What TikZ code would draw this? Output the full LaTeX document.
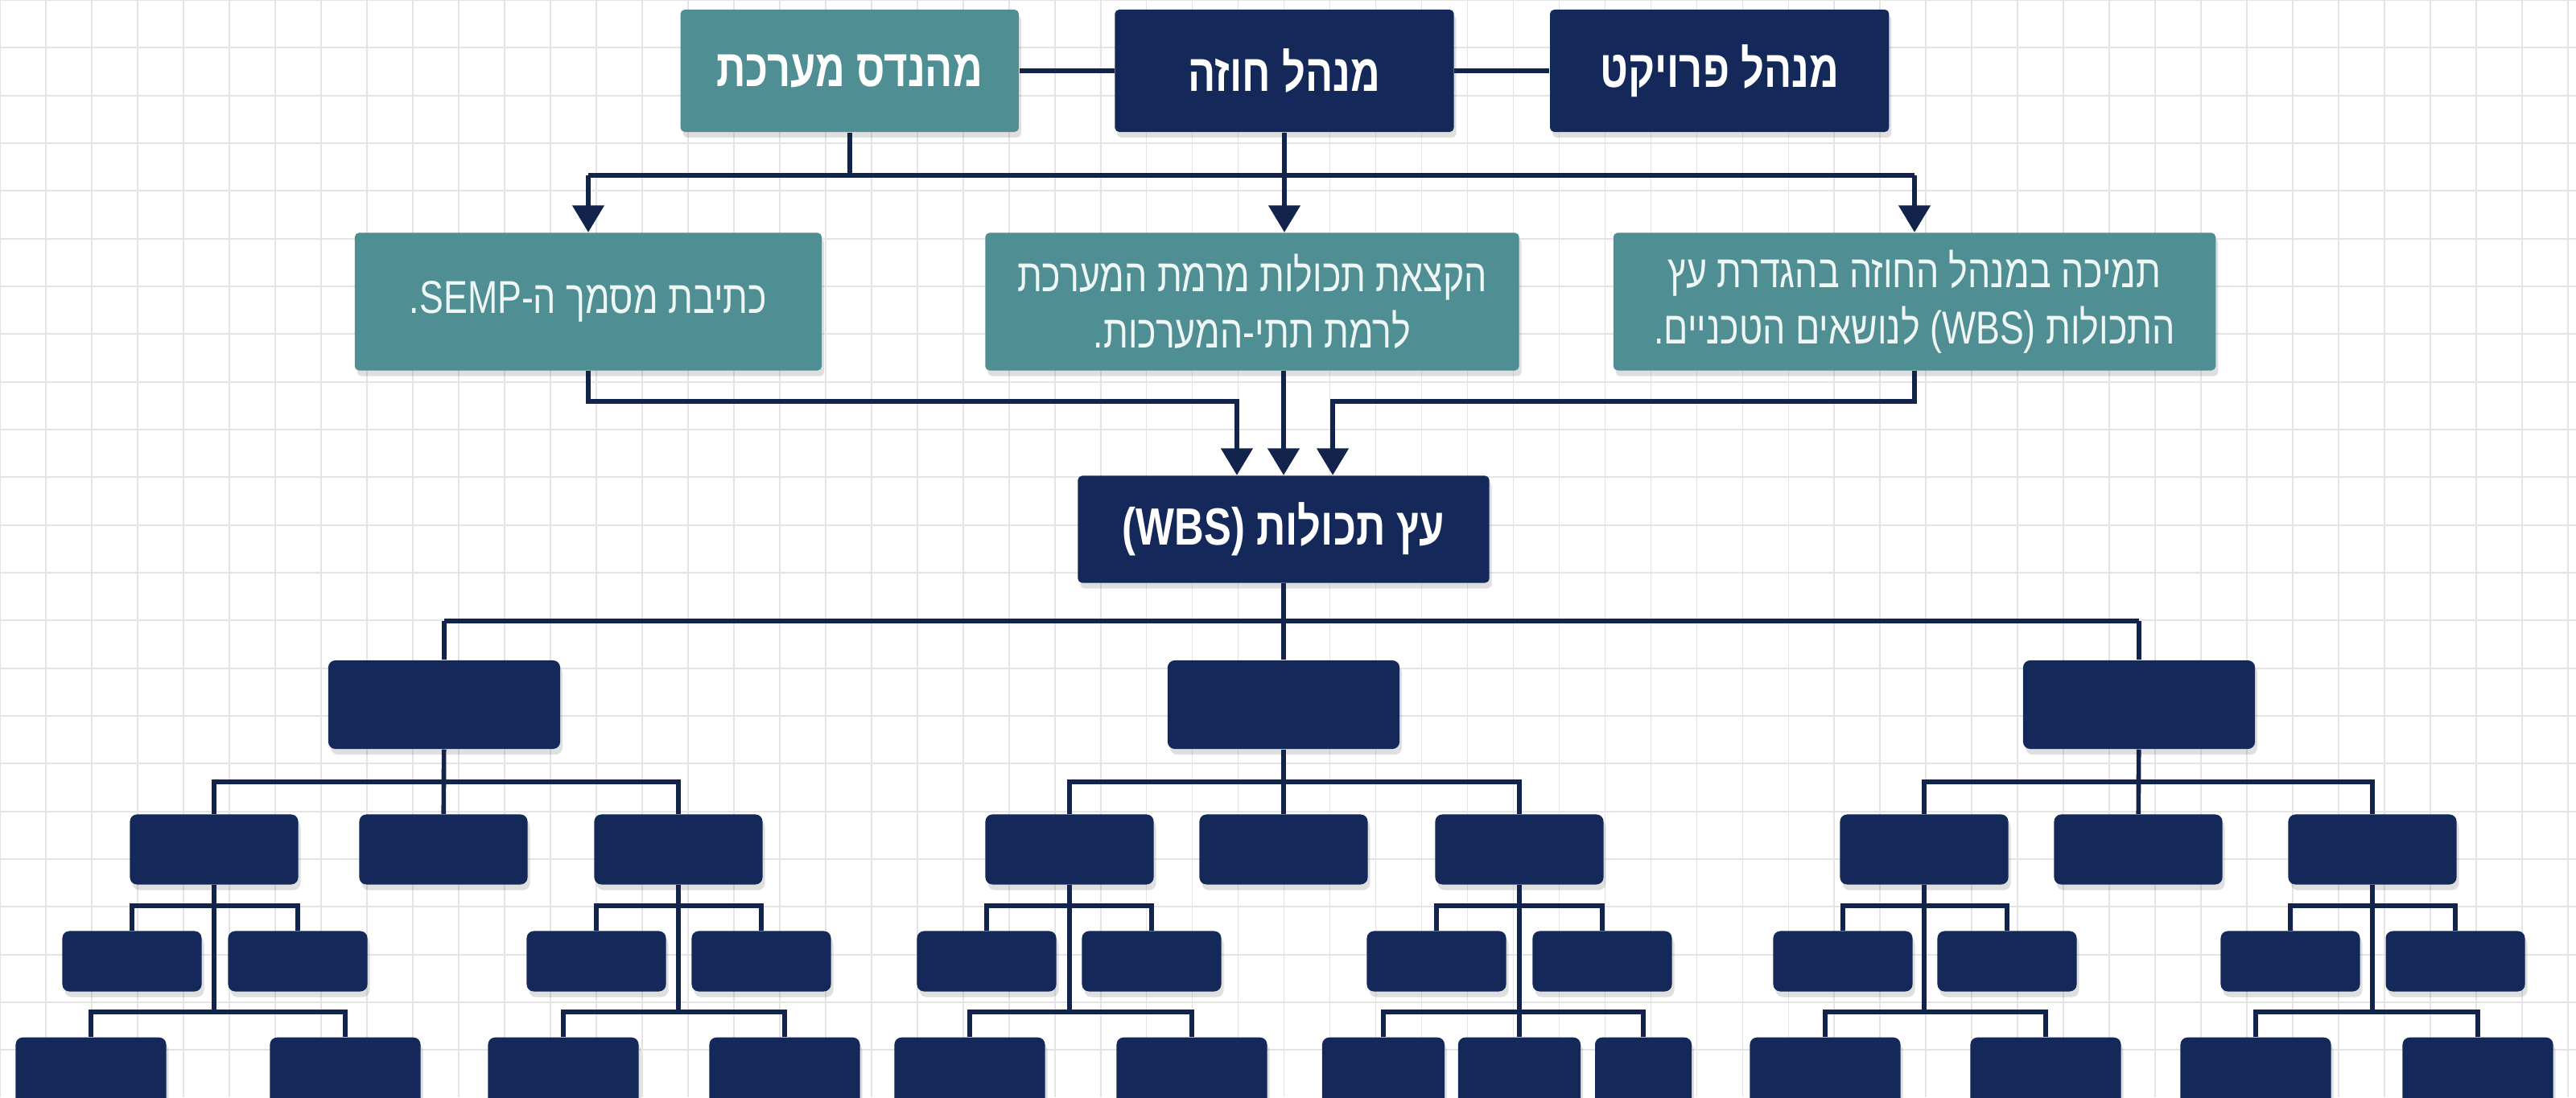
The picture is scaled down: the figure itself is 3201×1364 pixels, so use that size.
\documentclass[tikz,border=0pt]{standalone}
\usepackage{fontspec}
\newfontfamily\hebfont[Script=Hebrew,FakeStretch=0.78]{Liberation Sans}
\TeXXeTstate=1
\usetikzlibrary{arrows.meta, positioning, shadows}

\definecolor{navy}{HTML}{14295A}
\definecolor{tealbox}{HTML}{4F8E92}
\definecolor{tealtext}{HTML}{EEF6F6}
\definecolor{linkc}{HTML}{13244C}
\definecolor{gridc}{HTML}{E4E4E4}

\newcommand{\hebline}[1]{\beginR#1\endR}

\begin{document}
\begin{tikzpicture}[
    x=0.01cm, y=-0.01cm,
    node distance=1.18cm,
    softshadow/.style={drop shadow={opacity=0.25, shadow xshift=0.03cm, shadow yshift=-0.07cm}},
    head/.style={rectangle, softshadow, fill=navy, text=white, inner sep=0pt, rounded corners=1.5pt, minimum width=4.21cm, minimum height=1.52cm, font=\hebfont\bfseries\fontsize{18.5}{22}\selectfont},
    task/.style={rectangle, softshadow, fill=tealbox, text=tealtext, inner sep=0pt, rounded corners=1.5pt, align=center, minimum height=1.71cm, font=\hebfont\fontsize{16.3}{20}\selectfont},
    tbox/.style={rectangle, softshadow, fill=navy, inner sep=0pt, rounded corners=2.5pt},
    lvlA/.style={tbox, minimum width=2.88cm, minimum height=1.10cm},
    lvlB/.style={tbox, minimum width=2.09cm, minimum height=0.87cm},
    lvlC/.style={tbox, minimum width=1.73cm, minimum height=0.75cm},
    lvlD/.style={tbox, minimum width=1.87cm, minimum height=0.90cm, anchor=north},
    link/.style={draw=linkc, line width=1.6pt},
    arrow/.style={link, -{Triangle[length=9.5pt, width=11pt]}}
]

% Background
\useasboundingbox (0,0) rectangle (3201,1364);
\clip (0,0) rectangle (3201,1364);
\fill[white] (0,0) rectangle (3201,1364);
\draw[gridc, line width=0.5pt, xstep=0.5695cm, ystep=0.593cm] (0,0) grid (3201,1364);

% Roles
\node[head] (contract) at (1596,88) {\hebline{מנהל חוזה}};
\node[head, fill=tealbox, minimum width=4.20cm, left=of contract] (eng) {\hebline{מהנדס מערכת}};
\node[head, right=of contract] (project) {\hebline{מנהל פרויקט}};

% Tasks
\node[task, minimum width=5.80cm] (semp) at (731,375) {\hebline{כתיבת מסמך ה-\beginL SEMP\endL.}};
\node[task, minimum width=6.63cm] (alloc) at (1556,375) {\hebline{הקצאת תכולות מרמת המערכת}\\\hebline{לרמת תתי-המערכות.}};
\node[task, minimum width=7.48cm] (support) at (2379,375) {\hebline{תמיכה במנהל החוזה בהגדרת עץ}\\\hebline{התכולות \beginL(WBS)\endL{} לנושאים הטכניים.}};

% WBS
\node[head, minimum width=5.11cm, minimum height=1.33cm] (wbs) at (1595,658) {\hebline{עץ תכולות \beginL(WBS)\endL}};
\coordinate (inL) at ([xshift=-0.58cm]wbs.north);
\coordinate (inR) at ([xshift=0.61cm]wbs.north);

% Tree, level 1
\node[lvlA] (A) at (552,876) {};
\node[lvlA] (B) at (1595,876) {};
\node[lvlA] (C) at (2658,876) {};
% level 2
\node[lvlB] (A1) at (266,1056) {};
\node[lvlB] (A2) at (551,1056) {};
\node[lvlB] (A3) at (843,1056) {};
\node[lvlB] (B1) at (1329,1056) {};
\node[lvlB] (B2) at (1595,1056) {};
\node[lvlB] (B3) at (1888,1056) {};
\node[lvlB] (C1) at (2391,1056) {};
\node[lvlB] (C2) at (2657,1056) {};
\node[lvlB] (C3) at (2948,1056) {};
% level 3
\node[lvlC] (A1a) at (164,1195) {};
\node[lvlC] (A1b) at (370,1195) {};
\node[lvlC] (A3a) at (741,1195) {};
\node[lvlC] (A3b) at (946,1195) {};
\node[lvlC] (B1a) at (1226,1195) {};
\node[lvlC] (B1b) at (1431,1195) {};
\node[lvlC] (B3a) at (1785,1195) {};
\node[lvlC] (B3b) at (1991,1195) {};
\node[lvlC] (C1a) at (2290,1195) {};
\node[lvlC] (C1b) at (2494,1195) {};
\node[lvlC] (C3a) at (2846,1195) {};
\node[lvlC] (C3b) at (3051,1195) {};
% level 4
\node[lvlD] (A1c) at (113,1289) {};
\node[lvlD] (A1d) at (429,1289) {};
\node[lvlD] (A3c) at (700,1289) {};
\node[lvlD] (A3d) at (975,1289) {};
\node[lvlD] (B1c) at (1205,1289) {};
\node[lvlD] (B1d) at (1481,1289) {};
\node[lvlD, minimum width=1.52cm] (B3c) at (1719,1289) {};
\node[lvlD, minimum width=1.52cm] (B3d) at (1888,1289) {};
\node[lvlD, minimum width=1.20cm] (B3e) at (2042,1289) {};
\node[lvlD] (C1c) at (2268,1289) {};
\node[lvlD] (C1d) at (2542,1289) {};
\node[lvlD] (C3c) at (2803,1289) {};
\node[lvlD] (C3d) at (3079,1289) {};

% Bus heights
\coordinate (busA) at (0,218);
\coordinate (busB) at (0,499);
\coordinate (busC) at (0,772);
\coordinate (busD) at (0,972);
\coordinate (busE) at (0,1126);
\coordinate (busF) at (0,1258);

% Arrows
\draw[link] (eng) -- (contract) (contract) -- (project);
\draw[link] (eng) -- (eng |- busA) (semp |- busA) -- (support |- busA);
\draw[arrow] (semp |- busA) -- (semp);
\draw[arrow] (support |- busA) -- (support);
\draw[arrow] (contract) -- (contract |- alloc.north);
\draw[arrow] (semp) |- (inL |- busB) -- (inL);
\draw[arrow] (wbs |- alloc.south) -- (wbs);
\draw[arrow] (support) |- (inR |- busB) -- (inR);

% Tree links
\draw[link] (wbs) -- (wbs |- busC) (A |- busC) -- (C |- busC);
\draw[link] (A |- busC) -- (A) (B |- busC) -- (B) (C |- busC) -- (C);
\draw[link] (A) -- (A2) (A1) |- (A |- busD) -| (A3);
\draw[link] (B) -- (B2) (B1) |- (B |- busD) -| (B3);
\draw[link] (C) -- (C2) (C1) |- (C |- busD) -| (C3);
\draw[link] (A1) -- (A1 |- busF) (A1a) |- (A1 |- busE) -| (A1b) (A1c) |- (A1 |- busF) -| (A1d);
\draw[link] (A3) -- (A3 |- busF) (A3a) |- (A3 |- busE) -| (A3b) (A3c) |- (A3 |- busF) -| (A3d);
\draw[link] (B1) -- (B1 |- busF) (B1a) |- (B1 |- busE) -| (B1b) (B1c) |- (B1 |- busF) -| (B1d);
\draw[link] (B3) -- (B3d) (B3a) |- (B3 |- busE) -| (B3b) (B3c) |- (B3 |- busF) -| (B3e);
\draw[link] (C1) -- (C1 |- busF) (C1a) |- (C1 |- busE) -| (C1b) (C1c) |- (C1 |- busF) -| (C1d);
\draw[link] (C3) -- (C3 |- busF) (C3a) |- (C3 |- busE) -| (C3b) (C3c) |- (C3 |- busF) -| (C3d);

\end{tikzpicture}
\end{document}
